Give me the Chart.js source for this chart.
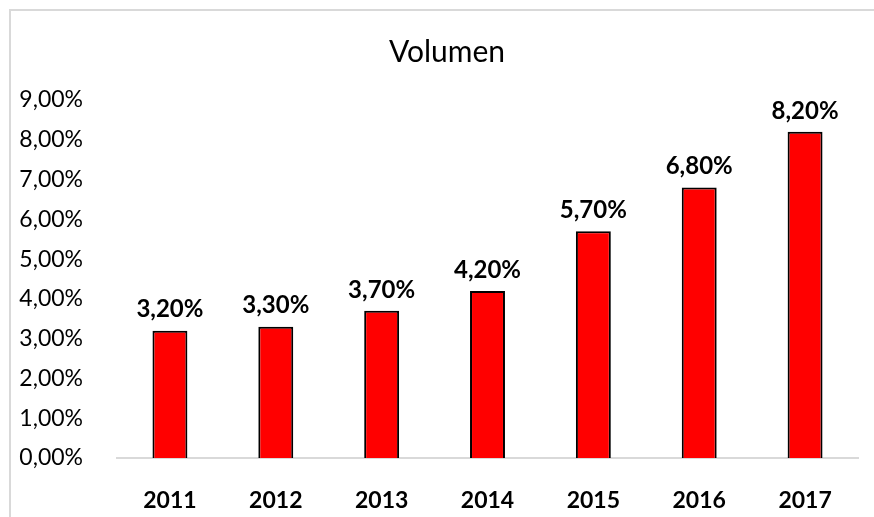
<!DOCTYPE html>
<html>
<head>
<meta charset="utf-8">
<script src="https://cdn.jsdelivr.net/npm/chart.js@4"></script>
<style>
  html, body { margin: 0; padding: 0; background: #fff; }
  #wrap { width: 874px; height: 517px; }
</style>
</head>
<body>
<div id="wrap"><canvas id="chart" width="874" height="517"></canvas></div>
<script>
const chartTitle = 'Volumen';
const years = ['2011', '2012', '2013', '2014', '2015', '2016', '2017'];
const volumen = [3.2, 3.3, 3.7, 4.2, 5.7, 6.8, 8.2];
const yTicks = [0, 1, 2, 3, 4, 5, 6, 7, 8, 9];

const FONT = "Lato, 'Open Sans', sans-serif";
const pct = (v) => v.toFixed(2).replace('.', ',') + '%';

// light grey frame round the whole chart, plus the title centred on the frame
// (the original frame runs past the right edge, so the title sits right of the plot centre)
const framePlugin = {
    id: 'frame',
    beforeDraw(chart) {
        const ctx = chart.ctx;
        ctx.save();
        ctx.fillStyle = '#fff';
        ctx.fillRect(0, 0, chart.width, chart.height);
        ctx.strokeStyle = '#d9d9d9';
        ctx.lineWidth = 2;
        ctx.strokeRect(10, 10, chart.width + 20, chart.height + 20);
        ctx.fillStyle = '#000';
        ctx.font = "30px " + FONT;
        ctx.textAlign = 'center';
        ctx.textBaseline = 'middle';
        ctx.fillText(chartTitle, 447, 52);
        ctx.restore();
    }
};

// bold value labels above each bar
const valueLabels = {
    id: 'valueLabels',
    afterDatasetsDraw(chart) {
        const ctx = chart.ctx;
        const meta = chart.getDatasetMeta(0);
        ctx.save();
        ctx.font = "bold 24px " + FONT;
        ctx.fillStyle = '#000';
        ctx.textAlign = 'center';
        ctx.textBaseline = 'bottom';
        meta.data.forEach((bar, i) => {
            ctx.fillText(pct(volumen[i]), bar.x, bar.y - 9);
        });
        ctx.restore();
    }
};

new Chart(document.getElementById('chart').getContext('2d'), {
    type: 'bar',
    data: {
        labels: years,
        datasets: [{
            label: chartTitle,
            data: volumen,
            backgroundColor: '#ff0000',
            borderColor: '#000',
            borderWidth: 2,
            categoryPercentage: 1,
            barPercentage: 0.33
        }]
    },
    options: {
        responsive: false,
        animation: false,
        layout: { padding: { left: 10, right: 16, top: 100, bottom: 0 } },
        plugins: {
            legend: { display: false },
            tooltip: { enabled: false },
            title: { display: false }
        },
        scales: {
            x: {
                grid: { display: false },
                border: { display: true, color: '#d9d9d9', width: 2 },
                ticks: { color: '#000', font: { family: FONT, size: 23, weight: 'bold' }, padding: 21 },
                afterFit(scale) { scale.height = 59; }
            },
            y: {
                min: 0,
                max: 9,
                grid: { display: false },
                border: { display: false },
                afterBuildTicks(scale) { scale.ticks = yTicks.map((v) => ({ value: v })); },
                afterFit(scale) { scale.width = 107; },
                ticks: {
                    color: '#000',
                    font: { family: FONT, size: 23 },
                    padding: 26,
                    callback: (v) => pct(v)
                }
            }
        }
    },
    plugins: [framePlugin, valueLabels]
});
</script>
</body>
</html>
